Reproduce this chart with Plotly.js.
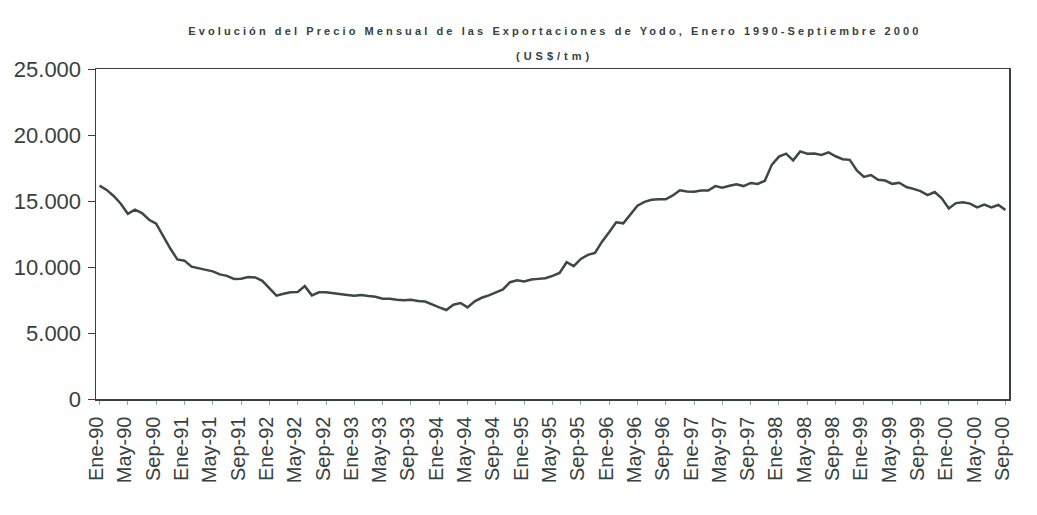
<!DOCTYPE html>
<html>
<head>
<meta charset="utf-8">
<script src="https://cdn.plot.ly/plotly-3.0.1.min.js"></script>
<style>
  html, body { margin: 0; padding: 0; background: #ffffff; }
  #chart { width: 1037px; height: 515px; }
</style>
</head>
<body>
<div id="chart"></div>
<script>
// ---- data ----
const meses = ['Ene','Feb','Mar','Abr','May','Jun','Jul','Ago','Sep','Oct','Nov','Dic'];
const anios = ['90','91','92','93','94','95','96','97','98','99','00'];
const ultimoMes2000 = 9; // Septiembre 2000

// Precio mensual de las exportaciones de yodo (US$/tm), Ene-90 .. Sep-00
const precio = [
  16160, 15840, 15380, 14790, 14030, 14340, 14080, 13580, 13280, 12300, 11400, 10570,
  10480, 10030,  9910,  9840,  9670,  9440,  9330,  9100,  9110,  9240,  9210,  8950,
   8350,  7830,  7970,  8080,  8100,  8550,  7850,  8080,  8080,  8000,  7950,  7880,
   7820,  7880,  7800,  7750,  7600,  7600,  7520,  7490,  7520,  7420,  7380,  7190,
   6940,  6740,  7140,  7270,  6940,  7400,  7670,  7850,  8100,  8300,  8850,  9000,
   8900,  9050,  9100,  9150,  9330,  9550, 10360, 10060, 10610, 10920, 11070, 11920,
  12630, 13380, 13310, 14000, 14640, 14930, 15090, 15140, 15130, 15420, 15810, 15720,
  15700, 15790, 15790, 16130, 16010, 16150, 16270, 16130, 16370, 16290, 16530, 17760,
  18360, 18590, 18080, 18760, 18580, 18590, 18490, 18680, 18390, 18170, 18120, 17320,
  16820, 16970, 16610, 16550, 16300, 16380, 16060, 15920, 15750, 15440, 15680, 15200,
  14440, 14840, 14900, 14800, 14510, 14720, 14520, 14700, 14320
];

const yTicks = [0, 5000, 10000, 15000, 20000, 25000];
const tituloLinea1 = 'Evolución del Precio Mensual de las Exportaciones de Yodo, Enero 1990-Septiembre 2000';
const tituloLinea2 = '(US$/tm)';

// categories (month labels)
const categorias = [];
anios.forEach((a, k) => {
  const n = (k === anios.length - 1) ? ultimoMes2000 : 12;
  for (let m = 0; m < n; m++) categorias.push(meses[m] + '-' + a);
});
const xTicks = categorias.filter((c, i) => i % 4 === 0);

const ink = '#36423e';
const trace = {
  x: categorias,
  y: precio,
  type: 'scatter',
  mode: 'lines',
  line: { color: '#3b4843', width: 2.5 },
  hoverinfo: 'x+y'
};

const layout = {
  width: 1037,
  height: 515,
  margin: { l: 96, r: 28, t: 69, b: 116 },
  paper_bgcolor: '#ffffff',
  plot_bgcolor: '#ffffff',
  separators: ',.',
  showlegend: false,
  font: { family: 'Liberation Sans, Arial, sans-serif', color: ink },
  xaxis: {
    type: 'category',
    range: [-0.5, categorias.length - 0.5],
    tickmode: 'array',
    tickvals: xTicks,
    ticktext: xTicks,
    tickangle: -90,
    tickfont: { size: 20, color: ink, family: 'Liberation Sans, Arial, sans-serif' },
    ticks: 'outside',
    ticklen: 4,
    tickcolor: '#9aa39f',
    ticklabelshift: -3,
    ticklabelstandoff: 4,
    showgrid: false,
    zeroline: false,
    showline: true,
    linecolor: ink,
    linewidth: 1.5,
    mirror: true,
    fixedrange: true
  },
  yaxis: {
    range: [0, 25000],
    tickmode: 'array',
    tickvals: yTicks,
    tickformat: ',d',
    tickfont: { size: 22, color: ink, family: 'Liberation Sans, Arial, sans-serif' },
    ticks: 'outside',
    ticklen: 7,
    tickcolor: ink,
    ticklabelstandoff: 2,
    showgrid: false,
    zeroline: false,
    showline: true,
    linecolor: ink,
    linewidth: 1.5,
    mirror: true,
    fixedrange: true
  },
  annotations: [
    {
      text: tituloLinea1,
      xref: 'paper', yref: 'paper',
      x: 0.503, y: 1.115,
      xanchor: 'center', yanchor: 'middle',
      showarrow: false,
      font: { size: 11, color: ink, family: 'Liberation Sans Narrow, Liberation Sans, Arial, sans-serif', weight: 'bold' }
    },
    {
      text: tituloLinea2,
      xref: 'paper', yref: 'paper',
      x: 0.503, y: 1.040,
      xanchor: 'center', yanchor: 'middle',
      showarrow: false,
      font: { size: 11, color: ink, family: 'Liberation Sans Narrow, Liberation Sans, Arial, sans-serif', weight: 'bold' }
    }
  ]
};

Plotly.newPlot('chart', [trace], layout, { displayModeBar: false, staticPlot: true }).then(() => {
  const spacings = [3.1, 4];
  document.querySelectorAll('.annotation-text').forEach((el, i) => {
    el.style.letterSpacing = (spacings[i] || 0) + 'px';
  });
});
</script>
</body>
</html>
